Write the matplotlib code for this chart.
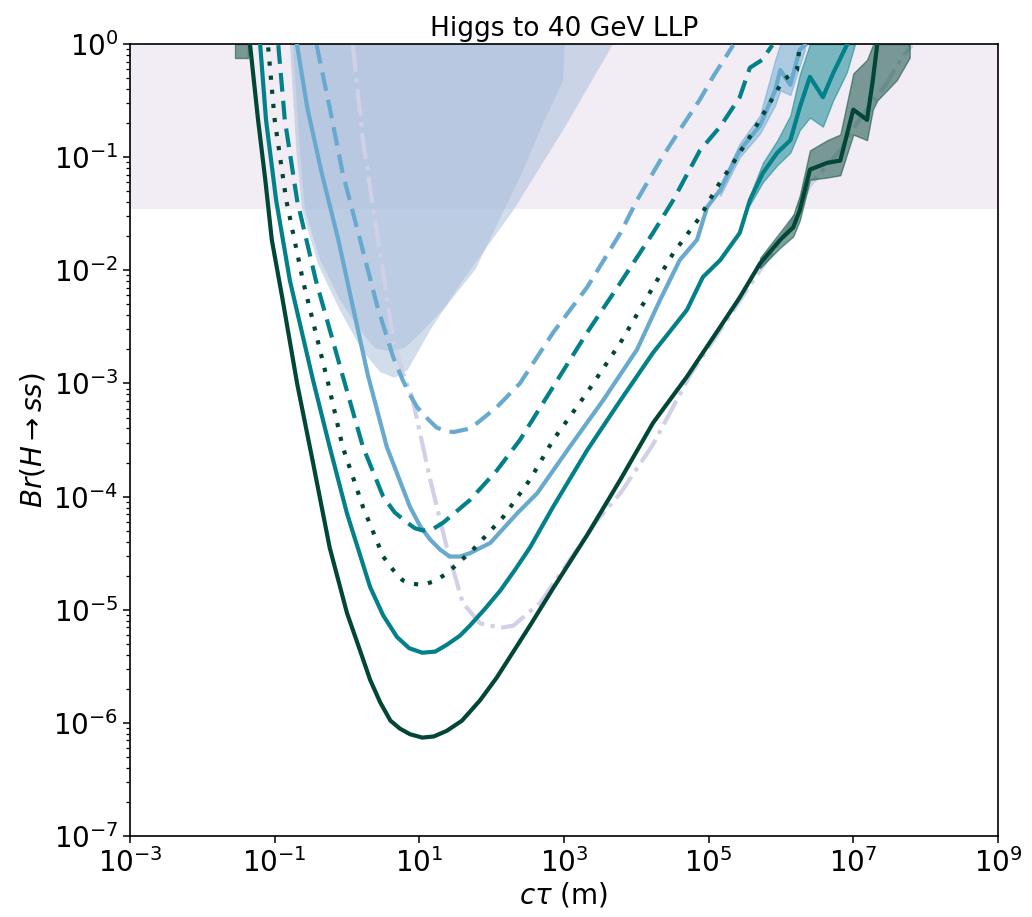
import numpy as np
import matplotlib
matplotlib.use("Agg")
import matplotlib.pyplot as plt
from matplotlib.ticker import NullLocator, FixedLocator

# ---------------- data (log10 c*tau [m], log10 Br) ----------------
dg_solid_x = [-1.34, -1.23, -1.13, -1.04, -0.89, -0.69, -0.47, -0.24, 0.00, 0.18, 0.32, 0.46, 0.60, 0.73,
              0.87, 1.04, 1.20, 1.38, 1.59, 1.84, 2.07, 2.30, 2.53, 2.85, 3.32, 3.78, 4.23, 4.70, 5.16,
              5.43, 5.71, 5.99, 6.17, 6.26, 6.40, 6.64, 6.82, 7.00, 7.19, 7.27, 7.33]
dg_solid_y = [-0.01, -0.67, -1.20, -1.73, -2.26, -3.00, -3.70, -4.45, -5.03, -5.36, -5.62, -5.82, -5.98, -6.05,
              -6.10, -6.13, -6.12, -6.07, -5.98, -5.80, -5.60, -5.37, -5.14, -4.81, -4.34, -3.85, -3.35, -2.94, -2.50,
              -2.24, -1.94, -1.73, -1.62, -1.47, -1.11, -1.05, -1.03, -0.58, -0.67, -0.32, -0.01]

teal_solid_x = [-1.20, -1.12, -0.98, -0.79, -0.47, -0.24, 0.00, 0.32, 0.50, 0.69, 0.86, 1.04, 1.22, 1.38,
                1.56, 1.70, 1.91, 2.12, 2.32, 2.53, 2.85, 3.32, 3.78, 4.23, 4.70, 4.92, 5.16, 5.43, 5.57,
                5.75, 5.95, 6.13, 6.26, 6.40, 6.58, 6.72, 6.91]
teal_solid_y = [-0.01, -0.67, -1.38, -2.09, -2.97, -3.56, -4.15, -4.80, -5.05, -5.24, -5.34, -5.38, -5.37, -5.31,
                -5.23, -5.14, -4.99, -4.83, -4.65, -4.45, -4.09, -3.59, -3.15, -2.73, -2.35, -2.06, -1.91, -1.67, -1.38,
                -1.14, -0.96, -0.85, -0.56, -0.29, -0.47, -0.26, -0.01]

dg_dotted_x = [-1.09, -1.00, -0.84, -0.61, -0.26, -0.06, 0.22, 0.50, 0.64, 0.77, 0.90, 1.04, 1.20, 1.38,
               1.74, 2.16, 2.53, 2.85, 3.32, 3.78, 4.23, 4.51, 4.88, 5.12, 5.34, 5.57, 5.81, 6.03, 6.22, 6.26]
dg_dotted_y = [-0.03, -0.67, -1.38, -2.09, -3.00, -3.56, -4.09, -4.53, -4.65, -4.74, -4.77, -4.78, -4.75, -4.68,
               -4.47, -4.18, -3.85, -3.50, -3.08, -2.64, -2.15, -1.85, -1.53, -1.26, -1.05, -0.82, -0.56, -0.32, -0.23, -0.01]

teal_dashed_x = [-0.95, -0.86, -0.69, -0.43, -0.03, 0.22, 0.50, 0.66, 0.83, 0.94, 1.05, 1.18, 1.33, 1.70,
                 2.07, 2.39, 2.85, 3.32, 3.78, 4.23, 4.51, 4.88, 5.16, 5.43, 5.57, 5.74, 5.88]
teal_dashed_y = [-0.01, -0.67, -1.38, -2.09, -3.00, -3.56, -4.00, -4.14, -4.23, -4.28, -4.30, -4.29, -4.23, -4.03,
                 -3.77, -3.50, -3.03, -2.55, -2.11, -1.67, -1.38, -0.94, -0.73, -0.47, -0.21, -0.14, -0.01]

blue_solid_x = [-0.69, -0.55, -0.35, -0.12, 0.08, 0.29, 0.55, 0.87, 1.01, 1.15, 1.29, 1.42, 1.56, 1.70,
                1.98, 2.35, 2.63, 3.08, 3.54, 4.01, 4.33, 4.60, 4.84, 4.98, 5.16, 5.43, 5.71, 5.92, 5.99,
                6.13, 6.26, 6.33]
blue_solid_y = [-0.01, -0.56, -1.14, -1.73, -2.32, -2.93, -3.56, -4.09, -4.26, -4.38, -4.47, -4.53, -4.53, -4.50,
                -4.41, -4.15, -3.97, -3.56, -3.15, -2.70, -2.26, -1.91, -1.73, -1.44, -1.29, -0.94, -0.72, -0.41, -0.23,
                -0.36, -0.05, -0.01]

blue_dashed_x = [-0.42, -0.24, -0.06, 0.18, 0.42, 0.64, 0.77, 0.87, 0.97, 1.11, 1.24, 1.36, 1.47, 1.69,
                 1.80, 2.07, 2.39, 2.85, 3.32, 3.78, 4.01, 4.33, 4.60, 4.88, 5.06, 5.34]
blue_dashed_y = [-0.01, -0.56, -1.14, -1.73, -2.32, -2.77, -2.97, -3.10, -3.21, -3.31, -3.39, -3.42, -3.43, -3.40,
                 -3.35, -3.21, -3.00, -2.55, -2.15, -1.67, -1.38, -1.03, -0.76, -0.49, -0.29, -0.01]

lav_dashdot_x = [0.08, 0.22, 0.36, 0.50, 0.64, 0.77, 0.90, 1.15, 1.38, 1.60, 1.84, 2.12, 2.30, 2.67,
                 3.08, 3.46, 3.78, 4.23, 4.74, 5.16, 5.71, 6.13, 6.40, 6.82, 7.05, 7.47, 7.65, 7.81]
lav_dashdot_y = [-0.01, -0.85, -1.44, -2.02, -2.62, -2.91, -3.12, -3.85, -4.45, -4.94, -5.12, -5.16, -5.14, -4.94,
                 -4.56, -4.21, -3.97, -3.54, -2.93, -2.53, -2.00, -1.60, -1.25, -0.94, -0.70, -0.34, -0.14, -0.01]

# uncertainty bands of the solid curves (log10 values)
dg_band_left_x = [-1.55, -1.37]
dg_band_left_lo = [-0.12, -0.12]
dg_band_left_hi = [0.0, 0.0]

dg_band_x = [5.71, 5.99, 6.17, 6.26, 6.40, 6.64, 6.82, 7.00, 7.19, 7.27, 7.33, 7.60, 7.78]
dg_band_lo = [-1.98, -1.80, -1.70, -1.56, -1.20, -1.18, -1.16, -0.80, -0.85, -0.58, -0.50, -0.32, -0.12]
dg_band_hi = [-1.89, -1.66, -1.51, -1.34, -0.94, -0.85, -0.80, -0.26, -0.14, -0.01, 0.0, 0.0, 0.0]

teal_band_x = [5.57, 5.75, 5.95, 6.13, 6.26, 6.40, 6.58, 6.72, 6.91, 7.02]
teal_band_lo = [-1.42, -1.22, -1.07, -0.96, -0.76, -0.65, -0.73, -0.50, -0.25, -0.01]
teal_band_hi = [-1.34, -1.05, -0.85, -0.63, -0.27, 0.0, 0.0, 0.0, 0.0, 0.0]

blue_band_x = [5.16, 5.43, 5.71, 5.92, 5.99, 6.13, 6.26, 6.33]
blue_band_lo = [-1.34, -1.00, -0.79, -0.54, -0.41, -0.45, -0.19, -0.05]
blue_band_hi = [-1.24, -0.88, -0.63, -0.14, 0.0, 0.0, 0.0, 0.0]

# excluded regions (existing limits)
excl_a_x = [-0.79, -0.70, -0.62, -0.40, -0.10, 0.21, 0.46, 0.66, 0.84, 1.15, 1.60, 2.30, 2.99, 3.68]
excl_a_y = [0.0, -0.94, -1.47, -1.95, -2.35, -2.71, -2.90, -2.95, -2.88, -2.53, -2.09, -1.47, -0.76, 0.0]

excl_b_x = [-0.75, -0.65, -0.58, -0.37, -0.10, 0.18, 0.39, 0.62, 0.81, 1.01, 1.38, 1.78, 2.07, 2.39, 2.70, 2.99, 3.01]
excl_b_y = [0.0, -0.94, -1.47, -1.91, -2.26, -2.53, -2.69, -2.72, -2.68, -2.56, -2.31, -1.99, -1.60, -1.18, -0.72, -0.32, 0.0]

invisible_br_limit = -1.46   # log10 of the shaded Br bound

x_ticks = [1e-3, 1e-1, 1e1, 1e3, 1e5, 1e7, 1e9]
y_ticks = [1e-7, 1e-6, 1e-5, 1e-4, 1e-3, 1e-2, 1e-1, 1e0]

# ---------------- figure ----------------
plt.rcParams['font.family'] = 'DejaVu Sans'
fig = plt.figure(figsize=(10.32, 9.17), dpi=100)
ax = fig.add_axes([0.126, 0.0883, 0.841, 0.8637])
ax.set_xscale('log')
ax.set_yscale('log')
ax.set_xlim(1e-3, 1e9)
ax.set_ylim(1e-7, 1e0)

P = lambda v: 10 ** np.asarray(v, dtype=float)

c_dg = '#014636'
c_teal = '#02818a'
c_blue = '#67a9cf'
c_lav = '#d0d1e6'
c_fill = '#a6bddb'
c_band = '#ece2f0'

ax.axhspan(P(invisible_br_limit), 1.0, color=c_band, alpha=0.65, lw=0, zorder=0)

ax.fill(P(excl_a_x), P(excl_a_y), color=c_fill, alpha=0.5, lw=0, zorder=1)
ax.fill(P(excl_b_x), P(excl_b_y), color=c_fill, alpha=0.5, lw=0, zorder=1)

lw = 3.0
ax.plot(P(lav_dashdot_x), P(lav_dashdot_y), color=c_lav, lw=lw, ls=(0, (6.4, 1.6, 1.0, 1.6)),
        solid_joinstyle='round', zorder=2)

for bx, blo, bhi, col in [(dg_band_left_x, dg_band_left_lo, dg_band_left_hi, c_dg),
                          (dg_band_x, dg_band_lo, dg_band_hi, c_dg),
                          (teal_band_x, teal_band_lo, teal_band_hi, c_teal),
                          (blue_band_x, blue_band_lo, blue_band_hi, c_blue)]:
    ax.fill_between(P(bx), P(blo), P(bhi), color=col, alpha=0.5, lw=1, zorder=2.5)

kw = dict(lw=lw, zorder=3, solid_joinstyle='round', dash_joinstyle='round')
ax.plot(P(blue_dashed_x), P(blue_dashed_y), color=c_blue, ls=(0, (4.5, 2.2)), **kw)
ax.plot(P(blue_solid_x), P(blue_solid_y), color=c_blue, **kw)
ax.plot(P(teal_dashed_x), P(teal_dashed_y), color=c_teal, ls=(0, (4.5, 2.2)), **kw)
ax.plot(P(teal_solid_x), P(teal_solid_y), color=c_teal, **kw)
ax.plot(P(dg_dotted_x), P(dg_dotted_y), color=c_dg, ls=(0, (1.0, 2.4)), **kw)
ax.plot(P(dg_solid_x), P(dg_solid_y), color=c_dg, **kw)

# ticks
ax.xaxis.set_major_locator(FixedLocator(x_ticks))
ax.xaxis.set_minor_locator(NullLocator())
ax.yaxis.set_major_locator(FixedLocator(y_ticks))
ax.yaxis.set_minor_locator(FixedLocator([m * t for t in y_ticks[:-1] for m in range(2, 10)]))
ax.tick_params(axis='both', which='major', labelsize=20, width=1.1, length=5)
ax.tick_params(axis='both', which='minor', width=0.9, length=3, labelleft=False)
for s in ax.spines.values():
    s.set_linewidth(1.2)

ax.set_title('Higgs to 40 GeV LLP', fontsize=19)
ax.set_xlabel(r'$c\tau$ (m)', fontsize=20, labelpad=2)
ax.set_ylabel(r'$Br(H\rightarrow ss)$', fontsize=20)

fig.savefig('out.png', dpi=100)
